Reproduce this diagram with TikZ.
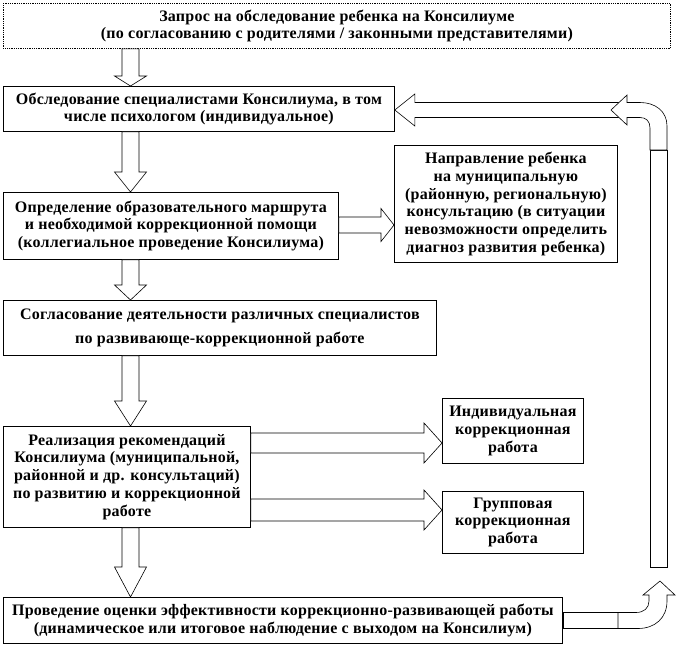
\documentclass[tikz,border=0pt]{standalone}
\usepackage{fontspec}
\setmainfont[LetterSpace=1.5]{Liberation Serif}
\usepackage{tikz}
\usetikzlibrary{calc}
\tikzset{
  box/.style={draw=black, line width=0.8pt, fill=white, anchor=north west, inner sep=0pt, align=center, font=\fontsize{16}{17.8}\selectfont\bfseries},
  dbox/.style={box, densely dotted},
  arr/.style={draw=black, line width=0.6pt, fill=white, line join=miter}
}
% block arrow downwards: from, to, x coordinate, head length
\newcommand{\downarr}[4]{%
  \draw[arr] ($(#1.south -| #3)+(-8.5,0)$) -- ($(#2.north -| #3)+(-8.5,-#4)$)
    -- ($(#2.north -| #3)+(-16,-#4)$) -- (#2.north -| #3)
    -- ($(#2.north -| #3)+(16,-#4)$) -- ($(#2.north -| #3)+(8.5,-#4)$)
    -- ($(#1.south -| #3)+(8.5,0)$) -- cycle;}
% block arrow to the right: from, to, y coordinate, shaft half, head half, head length
\newcommand{\rightarr}[6]{%
  \draw[arr] ($(#1.east |- #3)+(0,-#4)$) -- ($(#2.west |- #3)+(-#6,-#4)$)
    -- ($(#2.west |- #3)+(-#6,-#5)$) -- (#2.west |- #3)
    -- ($(#2.west |- #3)+(-#6,#5)$) -- ($(#2.west |- #3)+(-#6,#4)$)
    -- ($(#1.east |- #3)+(0,#4)$) -- cycle;}

\begin{document}
\begin{tikzpicture}[x=1pt,y=-1pt]
\useasboundingbox (0,0) rectangle (677,648);
\coordinate (ax) at (130.5,0);
\coordinate (ty) at (0,110);
\coordinate (ry) at (0,225);
\coordinate (iy) at (0,443);
\coordinate (gy) at (0,510);

% boxes
\node[dbox, minimum width=667pt, minimum height=45pt] (zapros) at (3,3)
  {Запрос на обследование ребенка на Консилиуме\\(по согласованию с родителями / законными представителями)};
\node[box, minimum width=391pt, minimum height=45pt] (obsl) at (3,86)
  {Обследование специалистами Консилиума, в том\\числе психологом (индивидуальное)};
\node[box, minimum width=335pt, minimum height=67pt] (marshr) at (3,192)
  {Определение образовательного маршрута\\и необходимой коррекционной помощи\\(коллегиальное проведение Консилиума)};
\node[box, minimum width=223pt, minimum height=117pt] (napr) at (394,145)
  {Направление ребенка\\на муниципальную\\(районную, региональную)\\консультацию (в ситуации\\невозможности определить\\диагноз развития ребенка)};
\node[box, minimum width=433pt, minimum height=55pt] (soglas) at (3,300)
  {Согласование деятельности различных специалистов\\[7pt]по развивающе-коррекционной работе};
\node[box, minimum width=247pt, minimum height=101pt] (realiz) at (3,426)
  {Реализация рекомендаций\\Консилиума (муниципальной,\\районной и др. консультаций)\\по развитию и коррекционной\\работе};
\node[box, minimum width=141pt, minimum height=65pt] (indiv) at (442,398)
  {Индивидуальная\\коррекционная\\работа};
\node[box, minimum width=141pt, minimum height=62pt] (grupp) at (442,491)
  {Групповая\\коррекционная\\работа};
\node[box, minimum width=559pt, minimum height=46pt] (ocenka) at (3,597)
  {Проведение оценки эффективности коррекционно-развивающей работы\\(динамическое или итоговое наблюдение с выходом на Консилиум)};

% arrows down
\downarr{zapros}{obsl}{ax}{10}
\downarr{obsl}{marshr}{ax}{20}
\downarr{marshr}{soglas}{ax}{15}
\downarr{soglas}{realiz}{ax}{25}
\downarr{realiz}{ocenka}{ax}{30}

% arrows right
\rightarr{marshr}{napr}{ry}{8}{16.5}{13}
\rightarr{realiz}{indiv}{iy}{10}{20}{18}
\rightarr{realiz}{grupp}{gy}{11}{20}{18}

% return loop
\draw[arr] ($(ocenka.east)+(0,-8)$) rectangle ($(ocenka.east)+(56,8)$);
\draw[arr] (618,628.5) -- (638,628.5) .. controls (655,628.5) and (667,618) .. (667,601)
  -- (667,595) -- (675,595) -- (660,581) -- (643,595) -- (649,595) -- (649,601)
  .. controls (649,608) and (644,612.5) .. (636,612.5) -- (618,612.5) -- cycle;
\draw[arr] (650,150) rectangle (667,567);
\draw[arr] (620,102.5) -- ($(obsl.east |- ty)+(20,-7.5)$) -- ($(obsl.east |- ty)+(20,-16)$)
  -- (obsl.east |- ty) -- ($(obsl.east |- ty)+(20,16)$) -- ($(obsl.east |- ty)+(20,7.5)$)
  -- (620,117.5) -- cycle;
\draw[arr] (667,150) -- (667,126) .. controls (667,111) and (655,102.5) .. (640,102.5)
  -- (627,102.5) -- (627,95) -- (611,110) -- (627,125) -- (627,117.5) -- (640,117.5)
  .. controls (646,117.5) and (650,121) .. (650,128) -- (650,150) -- cycle;
\end{tikzpicture}
\end{document}
